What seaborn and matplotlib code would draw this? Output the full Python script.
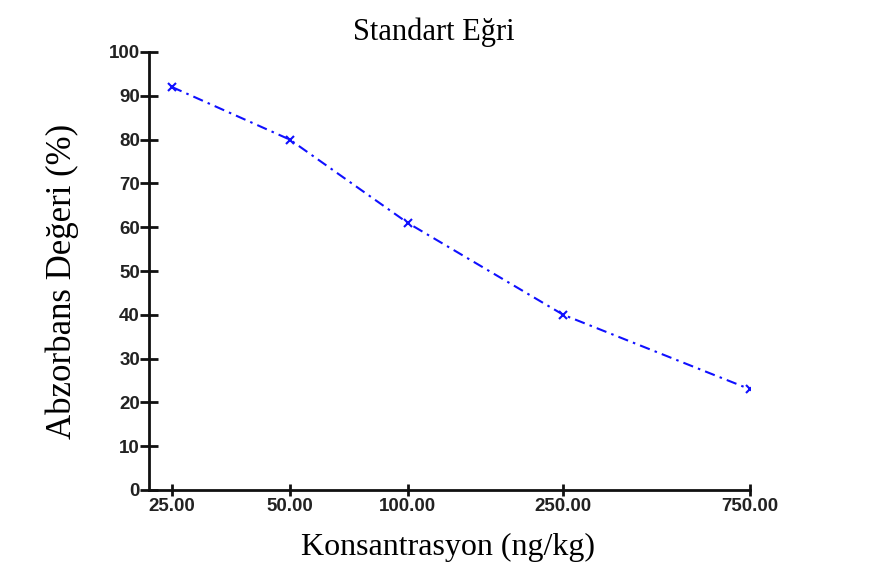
import matplotlib
matplotlib.use("Agg")
import numpy as np
import pandas as pd
import seaborn as sns
from matplotlib import pyplot as plt
from matplotlib.ticker import FixedLocator, NullLocator

concentration = [25, 50, 100, 250, 750]
absorbance = [92, 80, 61, 40, 23]
x_tick_labels = ["25.00", "50.00", "100.00", "250.00", "750.00"]
y_ticks = list(range(0, 101, 10))

df = pd.DataFrame({"Konsantrasyon": concentration, "Absorbans": absorbance})

sns.set_style("white")
plt.rcParams["font.family"] = ["Liberation Sans", "DejaVu Sans"]

fig = plt.figure(figsize=(8.73, 5.69), dpi=100)
ax = fig.add_axes([149 / 873, 1 - 490 / 569, (750 - 149) / 873, (490 - 52) / 569])

sns.lineplot(data=df, x="Konsantrasyon", y="Absorbans", ax=ax, color="#1010ff",
             linewidth=1.5, marker="x", markersize=6, markeredgewidth=1.5,
             markeredgecolor="#1010ff", dashes=False)
ax.lines[0].set_dashes([5, 2.5, 1.2, 2.5])

ax.set_xscale("log")
ax.set_xlim(25 / 10 ** (23 / 390.6), 750)
ax.set_ylim(0, 100)
ax.xaxis.set_major_locator(FixedLocator(concentration))
ax.xaxis.set_minor_locator(NullLocator())
ax.set_xticklabels(x_tick_labels)
ax.set_yticks(y_ticks)

for side in ["top", "right"]:
    ax.spines[side].set_visible(False)
for side in ["left", "bottom"]:
    ax.spines[side].set_color("#111111")
    ax.spines[side].set_linewidth(2)

ax.tick_params(axis="both", direction="inout", width=2, color="#111111",
               labelsize=13.5, labelcolor="#222222")
ax.tick_params(axis="y", left=True, length=13, pad=0)
ax.tick_params(axis="x", bottom=True, length=9, pad=1)
for lab in ax.get_xticklabels() + ax.get_yticklabels():
    lab.set_fontweight("bold")

ax.set_xlabel("")
ax.set_ylabel("")
serif = ["Liberation Serif", "DejaVu Serif"]
fig.text(434 / 873, 1 - 40 / 569, "Standart Eğri", ha="center", va="baseline",
         fontsize=22, family=serif, color="black")
fig.text(448 / 873, 1 - 555 / 569, "Konsantrasyon (ng/kg)", ha="center", va="baseline",
         fontsize=23, family=serif, color="black")
fig.text(62 / 873, 1 - 281 / 569, "Abzorbans Değeri (%)", ha="center", va="center",
         rotation=90, fontsize=25, family=serif, color="black")

fig.savefig("out.png", dpi=100, facecolor="white")
